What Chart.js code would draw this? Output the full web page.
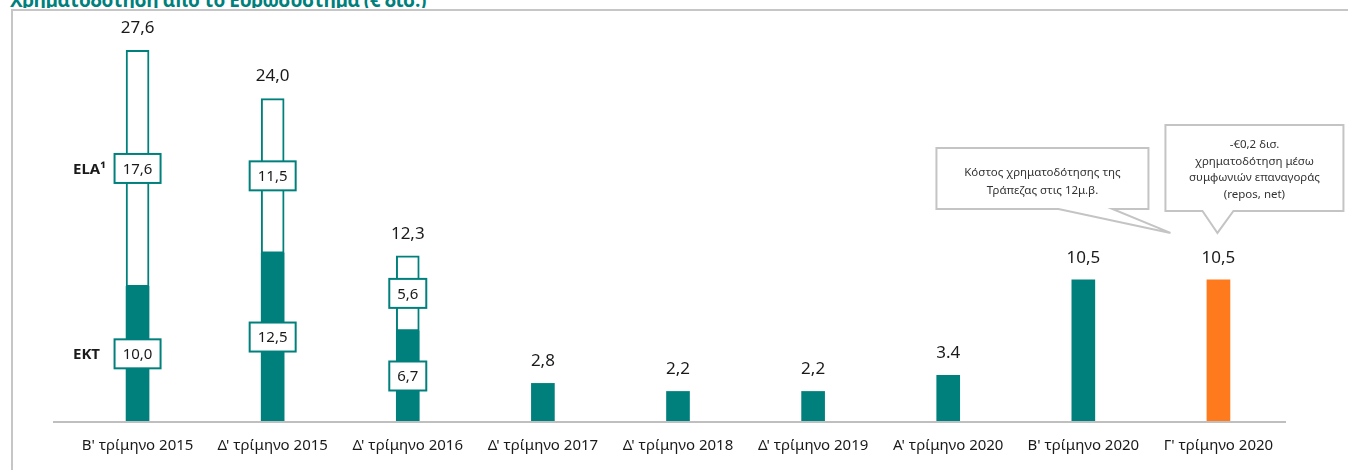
<!DOCTYPE html>
<html><head><meta charset="utf-8">
<script src="https://cdn.jsdelivr.net/npm/chart.js@4.4.0/dist/chart.umd.min.js"></script>
<style>
html,body{margin:0;padding:0;background:#fff;}
#wrap{position:relative;width:1348px;height:470px;overflow:hidden;}
#frame{position:absolute;left:11px;top:9px;right:-5px;bottom:-5px;border-top:2px solid #c6c6c6;border-left:2px solid #c6c6c6;}
#title{position:absolute;left:0;top:0;height:8px;overflow:hidden;width:700px;}
#title span{position:absolute;left:10px;top:-13px;font:bold 19px 'Open Sans',sans-serif;letter-spacing:-0.5px;color:#00807c;white-space:nowrap;}
canvas{position:absolute;left:0;top:0;}
</style></head><body>
<div id="wrap"><div id="frame"></div><div id="title"><span>Χρηματοδότηση από το Ευρωσύστημα (€ δισ.)</span></div><canvas id="c" width="1348" height="470"></canvas></div>
<script>
const categories = ["Β' τρίμηνο 2015","Δ' τρίμηνο 2015","Δ' τρίμηνο 2016","Δ' τρίμηνο 2017","Δ' τρίμηνο 2018","Δ' τρίμηνο 2019","Α' τρίμηνο 2020","Β' τρίμηνο 2020","Γ' τρίμηνο 2020"];
const ecbValues = [10.0, 12.5, 6.7, 2.8, 2.2, 2.2, 3.4, 10.5, 10.5];
const elaValues = [17.6, 11.5, 5.6, null, null, null, null, null, null];
const totalLabels = ['27,6','24,0','12,3','2,8','2,2','2,2','3.4','10,5','10,5'];
const ecbBoxLabels = ['10,0','12,5','6,7',null,null,null,null,null,null];
const elaBoxLabels = ['17,6','11,5','5,6',null,null,null,null,null,null];
const seriesNames = ['EKT','ELA¹'];
const callout1Lines = ['Κόστος χρηματοδότησης της','Τράπεζας στις 12μ.β.'];
const callout2Lines = ['-€0,2 δισ.','χρηματοδότηση μέσω','συμφωνιών επαναγοράς','(repos, net)'];

const TEAL = '#00807c';
const ORANGE = '#ff7a1c';
const FONT = "'Noto Sans', sans-serif";

const overlay = {
  id: 'overlay',
  beforeDatasetsDraw(chart) {
    const {ctx, chartArea} = chart;
    ctx.save();
    ctx.strokeStyle = '#bfbfbf';
    ctx.lineWidth = 2;
    ctx.beginPath();
    ctx.moveTo(chartArea.left - 17, chartArea.bottom + 1);
    ctx.lineTo(chartArea.right, chartArea.bottom + 1);
    ctx.stroke();
    ctx.restore();
  },
  afterDatasetsDraw(chart) {
    const {ctx} = chart;
    const m0 = chart.getDatasetMeta(0), m1 = chart.getDatasetMeta(1);
    const y = chart.scales.y;
    ctx.save();
    ctx.textAlign = 'center';
    ctx.textBaseline = 'middle';
    ctx.fillStyle = '#1a1a1a';
    ctx.font = '17px ' + FONT;
    categories.forEach((c, i) => {
      const e0 = m0.data[i];
      const top = elaValues[i] != null ? m1.data[i].y : e0.y;
      ctx.fillText(totalLabels[i], e0.x, top - 22);
    });
    const box = (txt, x, cy) => {
      ctx.font = '15px ' + FONT;
      const w = Math.round(ctx.measureText(txt).width + 16), h = 29;
      ctx.fillStyle = '#fff';
      ctx.fillRect(x - w/2, cy - h/2, w, h);
      ctx.strokeStyle = TEAL; ctx.lineWidth = 2;
      ctx.strokeRect(x - w/2, cy - h/2, w, h);
      ctx.fillStyle = '#1a1a1a';
      ctx.fillText(txt, x, cy + 1);
    };
    const seriesY = [];
    [[m0, ecbBoxLabels], [m1, elaBoxLabels]].forEach(([m, labs], k) => {
      labs.forEach((t, i) => {
        if (!t) return;
        const e = m.data[i];
        const cy = (e.y + e.base) / 2;
        if (i === 0) seriesY[k] = cy;
        box(t, e.x, cy);
      });
    });
    ctx.textAlign = 'left';
    ctx.font = 'bold 15px ' + FONT;
    ctx.fillStyle = '#1a1a1a';
    seriesNames.forEach((n, k) => ctx.fillText(n, 73, seriesY[k] + 1));
    const last = m0.data[categories.length - 1];
    const tipY = y.getPixelForValue(ecbValues[categories.length - 1]) - 47;
    const bx = last.x;
    const callout = (l, t, r, b, b1, b2, tx, lines, lineH, firstY) => {
      ctx.beginPath();
      ctx.moveTo(l, t); ctx.lineTo(r, t); ctx.lineTo(r, b);
      ctx.lineTo(b2, b); ctx.lineTo(tx, tipY); ctx.lineTo(b1, b);
      ctx.lineTo(l, b); ctx.closePath();
      ctx.fillStyle = '#fff'; ctx.fill();
      ctx.strokeStyle = '#c4c4c4'; ctx.lineWidth = 2; ctx.stroke();
      ctx.fillStyle = '#333';
      ctx.textAlign = 'center';
      ctx.font = '11.5px ' + FONT;
      lines.forEach((s, j) => ctx.fillText(s, (l + r) / 2, firstY + j * lineH));
    };
    callout(bx - 282, tipY - 85, bx - 70, tipY - 24, bx - 160, bx - 106, bx - 48, callout1Lines, 18, tipY - 60);
    callout(bx - 53, tipY - 108, bx + 125, tipY - 22, bx - 16, bx + 15, bx - 1, callout2Lines, 16.5, tipY - 88);
    ctx.restore();
  }
};

new Chart(document.getElementById('c'), {
  type: 'bar',
  data: {
    labels: categories,
    datasets: [
      { label: seriesNames[0], data: ecbValues,
        backgroundColor: ctx => ctx.dataIndex === categories.length - 1 ? ORANGE : TEAL,
        borderWidth: 0, barThickness: 23 },
      { label: seriesNames[1], data: elaValues,
        backgroundColor: '#fff', borderColor: TEAL, borderWidth: 2, borderSkipped: false,
        barThickness: 23 }
    ]
  },
  options: {
    responsive: false,
    animation: false,
    layout: { padding: { top: 18, left: 70, right: 62, bottom: 0 } },
    plugins: { legend: { display: false }, tooltip: { enabled: false } },
    scales: {
      x: {
        stacked: true,
        grid: { display: false, drawTicks: false },
        border: { display: false },
        ticks: { color: '#1a1a1a', font: { family: FONT, size: 15 }, padding: 16, maxRotation: 0 },
        afterFit(s) { s.height = 49; }
      },
      y: { stacked: true, display: false, min: 0, max: 30 }
    }
  },
  plugins: [overlay]
});
</script>
</body></html>
